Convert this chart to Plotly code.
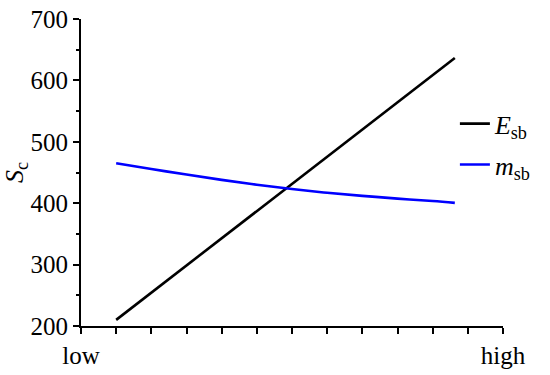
import plotly.graph_objects as go

x_pos = [1, 2, 3, 4, 5, 6, 7, 8, 9, 10, 10.63]
e_sb = [210.0, 254.3, 298.6, 342.9, 387.2, 431.5, 475.8, 520.1, 564.4, 608.7, 636.5]
m_sb = [465.0, 455.7, 446.6, 438.0, 430.0, 423.0, 417.0, 412.0, 407.5, 403.5, 400.5]
x_ticklabels = ["low", "high"]
x_tickvals = [0, 12]

font_family = "Liberation Serif"

fig = go.Figure()
fig.add_trace(go.Scatter(x=x_pos, y=e_sb, mode="lines", name="<i>E</i><sub>sb</sub>",
                         line=dict(color="black", width=2.6), legendgroup="a"))
fig.add_trace(go.Scatter(x=x_pos, y=m_sb, mode="lines", name="<i>m</i><sub>sb</sub>",
                         line=dict(color="#0000ff", width=2.6, shape="spline"), legendgroup="b"))

fig.update_layout(
    width=550, height=375,
    margin=dict(l=81, r=47, t=19, b=49),
    paper_bgcolor="white", plot_bgcolor="white",
    font=dict(family=font_family, size=25, color="black"),
    showlegend=True,
    legend=dict(x=0.886, y=0.592, xanchor="left", yanchor="middle",
                bgcolor="rgba(0,0,0,0)", font=dict(family=font_family, size=26),
                traceorder="grouped", tracegroupgap=4),
    xaxis=dict(range=[0, 12], tickmode="array", tickvals=x_tickvals, ticktext=x_ticklabels,
               automargin=False, tickfont=dict(family=font_family, size=25),
               showline=True, linecolor="black", linewidth=2, ticks="outside",
               ticklen=6, tickwidth=1.5, tickcolor="black", showgrid=False, zeroline=False,
               minor=dict(tickmode="array", tickvals=list(range(13)), ticks="outside",
                          ticklen=6, tickwidth=1.5, tickcolor="black", showgrid=False)),
    yaxis=dict(range=[200, 700], tickmode="linear", tick0=200, dtick=100,
               automargin=False, tickfont=dict(family=font_family, size=25),
               showline=True, linecolor="black", linewidth=2, ticks="outside",
               ticklen=6, tickwidth=1.5, tickcolor="black", showgrid=False, zeroline=False,
               title=dict(text="<i>S</i><sub>c</sub>", font=dict(family=font_family, size=26), standoff=8),
               minor=dict(dtick=50, ticks="outside", ticklen=3, tickwidth=1.5,
                          tickcolor="black", showgrid=False)),
)

fig.write_html("out.html", config={"displayModeBar": False},
               post_script="document.body.style.margin='0';")
